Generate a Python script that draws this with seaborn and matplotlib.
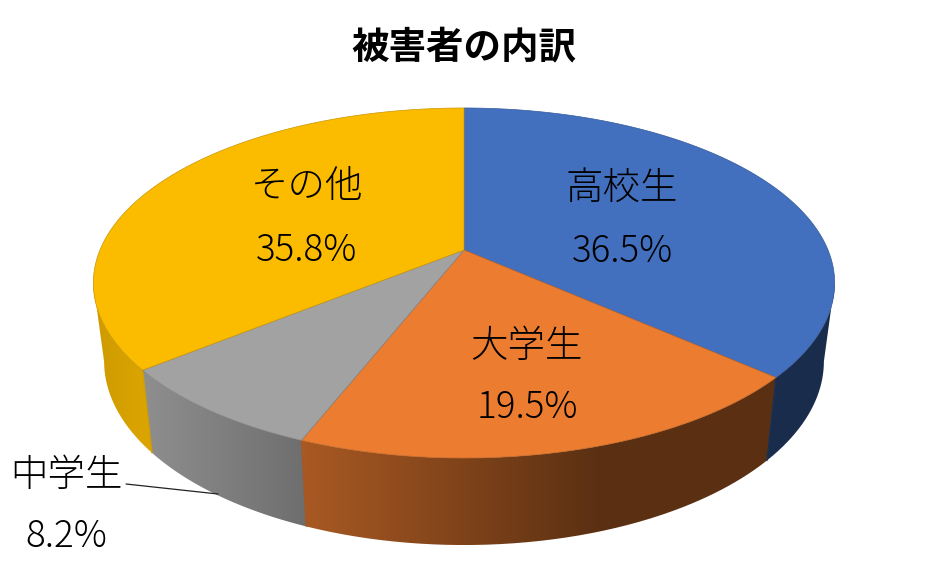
import numpy as np
import matplotlib
matplotlib.use('Agg')
import matplotlib.pyplot as plt
from matplotlib.patches import PathPatch
from matplotlib.path import Path
import seaborn as sns

# 被害者の内訳
labels = ['高校生', '大学生', '中学生', 'その他']
shares = [36.5, 19.5, 8.2, 35.8]
top_colors = ['#4270BF', '#EB7C30', '#A2A2A2', '#FBBC00']
# 側面の明るさ (左端, 右端)
wall_light = [(0.40, 0.40), (0.72, 0.39), (0.88, 0.68), (0.82, 0.88)]

sns.set_theme(style='white')
plt.rcParams['font.family'] = ['Noto Sans CJK JP', 'DejaVu Sans']

fig, ax = plt.subplots(figsize=(9.28, 5.74), dpi=100)
ax.set_position([0, 0, 1, 1])
ax.axis('off')

# 透視変換のパラメータ
cx, cy = 464, 250
rx, ry, k = 364, 168.8, 0.1886


def project(theta):
    x = np.sin(theta)
    y = np.cos(theta)
    d = 1 + k * y
    return cx + rx * x / d, cy - ry * y / d


def drop(px, py):
    return cx + 0.971 * (px - cx), py + 83 + 0.05 * (py - 378)


edges = np.radians(np.cumsum([0] + shares) * 3.6)
rgb = sns.color_palette(top_colors)
# 楕円の左右の接点より手前だけ側面が見える
visible_from = np.arccos(-k)

# 側面 (横方向のグラデーションをスライスの形で切り抜く)
for i in range(len(shares)):
    a0 = max(edges[i], visible_from)
    a1 = min(edges[i + 1], 2 * np.pi - visible_from)
    steps = np.linspace(a0, a1, 200)
    tx, ty = project(steps)
    bx, by = drop(tx, ty)
    xs = np.r_[tx, bx[::-1], tx[0]]
    ys = np.r_[ty, by[::-1], ty[0]]
    lo, hi = xs.min(), xs.max()
    if i == 1:
        ramp_end = lo + 0.62 * (hi - lo)   # 右側は暗いまま
    else:
        ramp_end = hi
    grid = np.linspace(lo, hi, 256)
    f = np.clip((grid - lo) / (ramp_end - lo), 0, 1)
    light = wall_light[i][0] + f * (wall_light[i][1] - wall_light[i][0])
    img = np.outer(light, rgb[i]).reshape(1, 256, 3)
    im = ax.imshow(img, extent=(lo, hi, ys.max(), ys.min()), aspect='auto', zorder=2)
    patch = PathPatch(Path(np.c_[xs, ys]), transform=ax.transData, fc='none', ec='none')
    ax.add_patch(patch)
    im.set_clip_path(patch)

# スライス境界の縦線
seam_colors = [tuple(v * 0.42 for v in rgb[0]),
               tuple(v * 0.70 for v in rgb[1]),
               tuple(v * 0.84 for v in rgb[3])]
for a, col in zip(edges[1:4], seam_colors):
    tx, ty = project(a)
    bx, by = drop(tx, ty)
    ax.plot([tx, bx], [ty, by], color=col, lw=1.0, zorder=2.5)

ax.set_xlim(0, 928)
ax.set_ylim(574, 0)

# 上面
for i, col in enumerate(top_colors):
    steps = np.linspace(edges[i], edges[i + 1], 200)
    tx, ty = project(steps)
    ax.fill(np.r_[cx, tx], np.r_[cy, ty], facecolor=col,
            edgecolor=tuple(v * 0.8 for v in rgb[i]), lw=0.5, zorder=3)

# 文字
ax.text(464, 47, '被害者の内訳', ha='center', va='center', fontsize=27,
        fontweight='bold', color='black', zorder=5)

name_pos = [(622, 188), (527, 346), (67, 475), (307, 186)]
pct_pos = [(622, 252), (527, 408), (66, 537), (307, 251)]
for name, val, np_, pp in zip(labels, shares, name_pos, pct_pos):
    ax.text(np_[0], np_[1], name, ha='center', va='center', fontsize=27,
            fontweight='light', color='black', zorder=5)
    ax.text(pp[0], pp[1], f'{val}%', ha='center', va='center', fontsize=26.5,
            fontweight='light', color='black', zorder=5)

# 引き出し線
ax.plot([126, 218], [484, 494], color='#222222', lw=0.9, zorder=4)

fig.savefig('out.png', dpi=100)
